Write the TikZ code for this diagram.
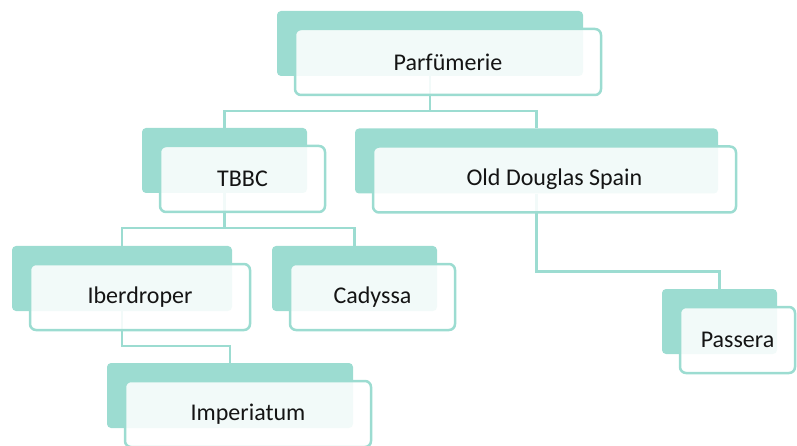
\documentclass[tikz,border=0pt]{standalone}
\usepackage{fontspec}
\setmainfont{Carlito}
\definecolor{tealback}{RGB}{156,220,209}
\definecolor{txt}{RGB}{20,20,20}
\begin{document}
\begin{tikzpicture}[x=1pt,y=-1pt,
  backbox/.style={fill=tealback, draw=none, rounded corners=4pt, minimum width=#1, minimum height=65pt, inner sep=0pt},
  frontbox/.style={fill=white, fill opacity=0.88, text opacity=1, draw=tealback, line width=2.5pt, rounded corners=6pt, minimum width=#1, minimum height=66pt, inner sep=0pt, text=txt, font=\fontsize{24}{28}\selectfont},
  conn/.style={draw=tealback, line width=2.5pt}
]
\useasboundingbox (0,0) rectangle (797,446);
\clip (0,0) rectangle (797,446);
% back boxes
\node[backbox=306] (pb) at (430,43.5) {};
\node[backbox=165] (tb) at (224.5,160.5) {};
\node[backbox=363] (ob) at (536.5,161) {};
\node[backbox=220] (ib) at (122,278.5) {};
\node[backbox=165] (cb) at (354.5,278.5) {};
\node[backbox=246] (mb) at (230,395.5) {};
\node[backbox=115] (sb) at (719.5,321.5) {};
% connectors
\draw[conn] (pb.south) -- ++(0,35) -| (tb.north);
\draw[conn] (pb.south) -- ++(0,35) -| (ob.north);
\draw[conn] (tb.south) -- ++(0,35) -| (ib.north);
\draw[conn] (tb.south) -- ++(0,35) -| (cb.north);
\draw[conn] (ib.south) -- ++(0,35) -| (mb.north);
\draw[conn] (ob.south) -- ++(0,78) -| (sb.north);
% front boxes
\node[frontbox=306] (pf) at ([shift={(18,18.5)}]pb.center) {Parfümerie};
\node[frontbox=165] (tf) at ([shift={(18,18.5)}]tb.center) {TBBC};
\node[frontbox=363] (of) at ([shift={(18,18.5)}]ob.center) {Old Douglas Spain};
\node[frontbox=220] (if) at ([shift={(18,18.5)}]ib.center) {Iberdroper};
\node[frontbox=165] (cf) at ([shift={(18,18.5)}]cb.center) {Cadyssa};
\node[frontbox=246] (mf) at ([shift={(18,18.5)}]mb.center) {Imperiatum};
\node[frontbox=115] (sf) at ([shift={(18,18.5)}]sb.center) {Passera};
\end{tikzpicture}
\end{document}
